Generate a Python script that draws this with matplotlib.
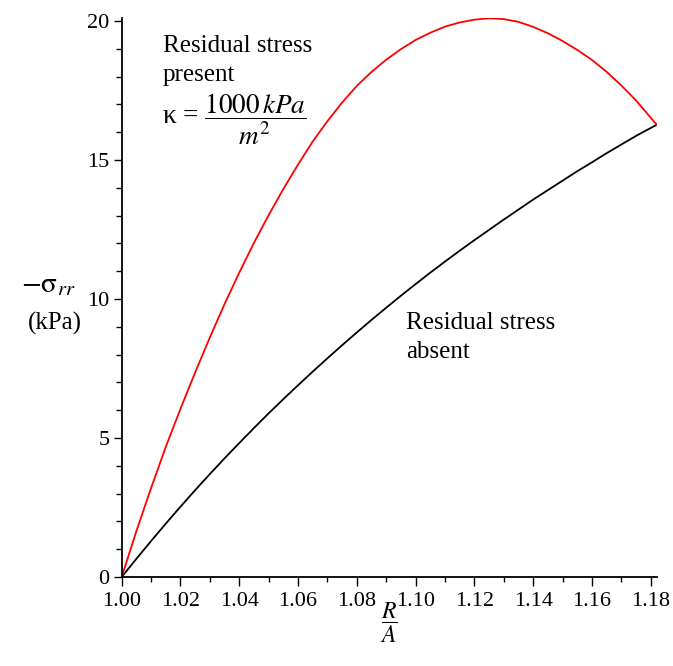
import matplotlib
matplotlib.use("Agg")
import matplotlib.pyplot as plt
from matplotlib.ticker import MultipleLocator, FixedLocator

plt.rcParams['font.family'] = ['Liberation Serif', 'DejaVu Serif']
plt.rcParams['mathtext.fontset'] = 'stix'

# R/A values, residual stress absent
x_absent = [1.000, 1.005, 1.010, 1.015, 1.020, 1.025, 1.030, 1.035, 1.040, 1.045,
            1.050, 1.055, 1.060, 1.065, 1.070, 1.075, 1.080, 1.085, 1.090, 1.095,
            1.100, 1.105, 1.110, 1.115, 1.120, 1.125, 1.130, 1.135, 1.140, 1.145,
            1.150, 1.155, 1.160, 1.165, 1.170, 1.175, 1.182]
# -sigma_rr (kPa), residual stress absent
y_absent = [0.00, 0.655, 1.295, 1.92, 2.53, 3.125, 3.705, 4.27, 4.82, 5.36,
            5.89, 6.40, 6.90, 7.39, 7.87, 8.34, 8.80, 9.25, 9.69, 10.12,
            10.54, 10.95, 11.35, 11.74, 12.12, 12.49, 12.86, 13.22, 13.58, 13.92,
            14.26, 14.60, 14.92, 15.25, 15.56, 15.87, 16.27]

# R/A values, residual stress present
x_present = [1.000, 1.005, 1.010, 1.015, 1.020, 1.025, 1.030, 1.035, 1.040, 1.045,
             1.050, 1.055, 1.060, 1.065, 1.070, 1.075, 1.080, 1.085, 1.090, 1.095,
             1.100, 1.105, 1.110, 1.115, 1.120, 1.125, 1.130, 1.135, 1.140, 1.145,
             1.150, 1.155, 1.160, 1.165, 1.170, 1.175, 1.182]
# -sigma_rr (kPa), residual stress present
y_present = [0.00, 1.65, 3.20, 4.68, 6.05, 7.36, 8.62, 9.82, 10.95, 12.02,
             13.02, 13.96, 14.84, 15.67, 16.40, 17.07, 17.67, 18.17, 18.61, 18.99,
             19.32, 19.58, 19.80, 19.95, 20.05, 20.10, 20.07, 19.97, 19.79, 19.56,
             19.28, 18.96, 18.60, 18.17, 17.68, 17.14, 16.27]

x_ticks = [1.00, 1.02, 1.04, 1.06, 1.08, 1.10, 1.12, 1.14, 1.16, 1.18]
x_ticklabels = ["1.00", "1.02", "1.04", "1.06", "1.08", "1.10", "1.12", "1.14", "1.16", "1.18"]
y_ticks = [0, 5, 10, 15, 20]
y_ticklabels = ["0", "5", "10", "15", "20"]

fig = plt.figure(figsize=(6.73, 6.66), dpi=100)
ax = fig.add_axes([0.1808, 0.1336, 0.795, 0.8398])

ax.plot(x_absent, y_absent, color='black', lw=1.3, solid_joinstyle='round')
ax.plot(x_present, y_present, color='#ff0000', lw=1.3, solid_joinstyle='round')

ax.set_xlim(1.0, 1.182)
ax.set_ylim(0, 20.12)

for s in ['top', 'right']:
    ax.spines[s].set_visible(False)
for s in ['left', 'bottom']:
    ax.spines[s].set_linewidth(1.3)

ax.xaxis.set_major_locator(FixedLocator(x_ticks))
ax.set_xticklabels(x_ticklabels)
ax.xaxis.set_minor_locator(MultipleLocator(0.01))
ax.yaxis.set_major_locator(FixedLocator(y_ticks))
ax.set_yticklabels(y_ticklabels)
ax.yaxis.set_minor_locator(MultipleLocator(1))

ax.tick_params(axis='x', which='major', direction='out', length=6.5, width=1.0, pad=4, labelsize=16)
ax.tick_params(axis='x', which='minor', direction='out', length=3.6, width=1.0)
ax.tick_params(axis='y', which='major', direction='out', length=5.8, width=1.0, pad=3, labelsize=16)
ax.tick_params(axis='y', which='minor', direction='out', length=4.3, width=1.0)

# axis labels
fig.text(389 / 673, 1 - 623 / 666, r'$\dfrac{R}{A}$', ha='center', va='center', fontsize=17)
fig.text(48 / 673, 1 - 285 / 666, r'$-\mathrm{\sigma}_{rr}$', ha='center', va='center', fontsize=21)
fig.text(55 / 673, 1 - 323 / 666, '(kPa)', ha='center', va='center', fontsize=18)

# annotations
fig.text(163 / 673, 1 - 46 / 666, 'Residual stress', ha='left', va='center', fontsize=18)
fig.text(163 / 673, 1 - 75 / 666, 'present', ha='left', va='center', fontsize=18)
fig.text(162 / 673, 1 - 119 / 666, r'κ = $\dfrac{1000\,kPa}{m^2}$', ha='left', va='center', fontsize=19.5)

fig.text(406 / 673, 1 - 323 / 666, 'Residual stress', ha='left', va='center', fontsize=18)
fig.text(406 / 673, 1 - 352 / 666, 'absent', ha='left', va='center', fontsize=18)

fig.savefig('out.png', dpi=100)
